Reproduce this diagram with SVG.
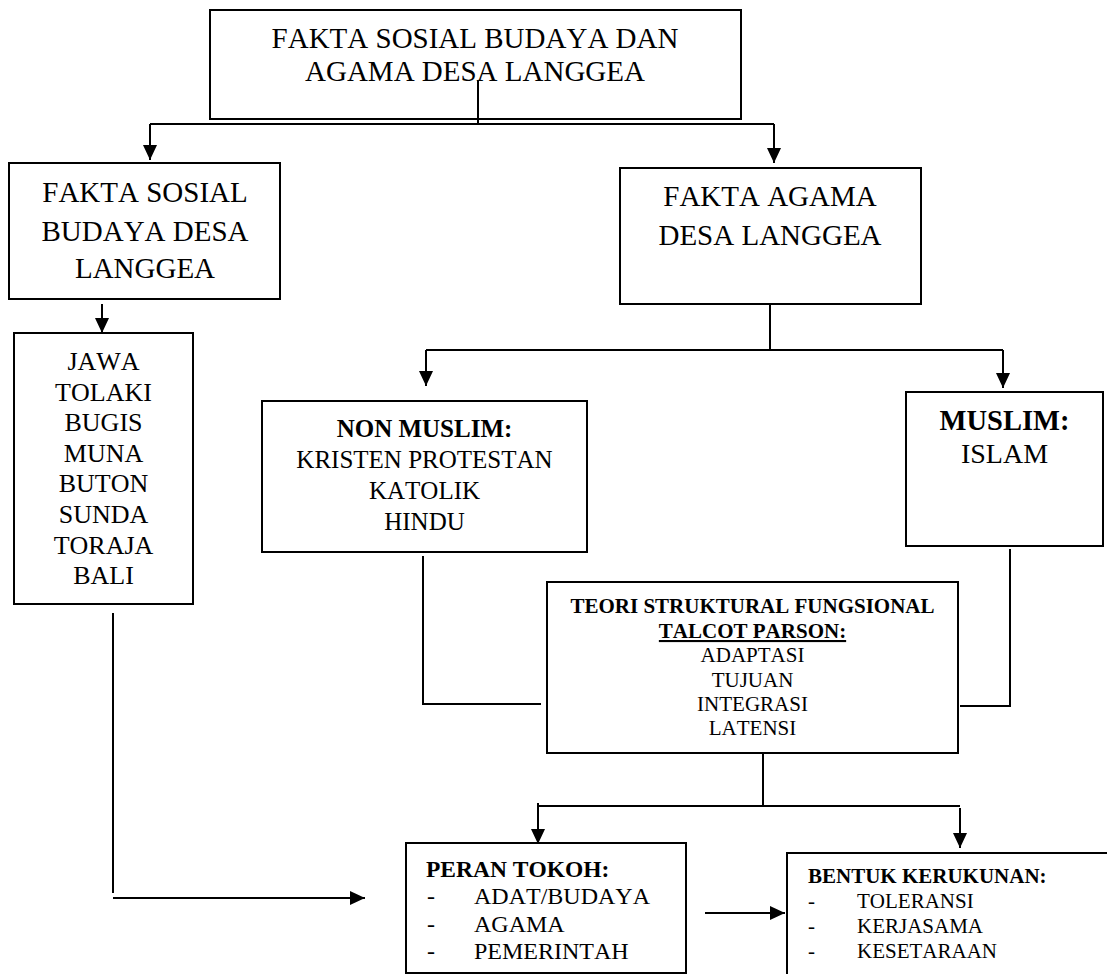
<svg xmlns="http://www.w3.org/2000/svg" width="1107" height="974" viewBox="0 0 1107 974">
<style>
  .box { fill: #ffffff; stroke: #000000; stroke-width: 2; }
  .con { fill: none; stroke: #000000; stroke-width: 2; }
  text { font-family: "Liberation Serif", serif; fill: #000000; font-kerning: none; }
  .c { text-anchor: middle; }
  .b { font-weight: bold; }
</style>
<defs>
  <marker id="arrow" markerUnits="userSpaceOnUse" markerWidth="16" markerHeight="14" refX="15" refY="7" orient="auto">
    <path d="M0,0 L15,7 L0,14 Z" fill="#000000"/>
  </marker>
</defs>
<rect width="1107" height="974" fill="#ffffff"/>

<g id="node-top">
  <rect class="box" x="210" y="10" width="531" height="109"/>
  <text class="c" x="475" y="48" font-size="29">FAKTA SOSIAL BUDAYA DAN</text>
  <text class="c" x="475" y="81" font-size="29">AGAMA DESA LANGGEA</text>
</g>

<g id="node-sosial">
  <rect class="box" x="9" y="163" width="271" height="136"/>
  <text class="c" x="145" y="202" font-size="29">FAKTA SOSIAL</text>
  <text class="c" x="145" y="241" font-size="29">BUDAYA DESA</text>
  <text class="c" x="145" y="278" font-size="29">LANGGEA</text>
</g>

<g id="node-agama">
  <rect class="box" x="620" y="168" width="301" height="136"/>
  <text class="c" x="770" y="206" font-size="29">FAKTA AGAMA</text>
  <text class="c" x="770" y="245" font-size="29">DESA LANGGEA</text>
</g>

<g id="node-suku">
  <rect class="box" x="14" y="333" width="179" height="271"/>
  <text class="c" x="103.5" y="370" font-size="26">JAWA</text>
  <text class="c" x="103.5" y="401" font-size="26">TOLAKI</text>
  <text class="c" x="103.5" y="431" font-size="26">BUGIS</text>
  <text class="c" x="103.5" y="462" font-size="26">MUNA</text>
  <text class="c" x="103.5" y="492" font-size="26">BUTON</text>
  <text class="c" x="103.5" y="523" font-size="26">SUNDA</text>
  <text class="c" x="103.5" y="554" font-size="26">TORAJA</text>
  <text class="c" x="103.5" y="584" font-size="26">BALI</text>
</g>

<g id="node-nonmuslim">
  <rect class="box" x="262" y="401" width="325" height="151"/>
  <text class="c b" x="424.5" y="437" font-size="25">NON MUSLIM:</text>
  <text class="c" x="424.5" y="468" font-size="25">KRISTEN PROTESTAN</text>
  <text class="c" x="424.5" y="499" font-size="25">KATOLIK</text>
  <text class="c" x="424.5" y="530" font-size="25">HINDU</text>
</g>

<g id="node-muslim">
  <rect class="box" x="906" y="392" width="197" height="154"/>
  <text class="c b" x="1004.5" y="430" font-size="28.5">MUSLIM:</text>
  <text class="c" x="1004.5" y="463" font-size="28">ISLAM</text>
</g>

<g id="node-teori">
  <rect class="box" x="547" y="582" width="411" height="171"/>
  <text class="c b" x="752.5" y="613" font-size="21">TEORI STRUKTURAL FUNGSIONAL</text>
  <text class="c b" x="752.5" y="638" font-size="21" text-decoration="underline">TALCOT PARSON:</text>
  <text class="c" x="752.5" y="662" font-size="21">ADAPTASI</text>
  <text class="c" x="752.5" y="687" font-size="21">TUJUAN</text>
  <text class="c" x="752.5" y="711" font-size="21">INTEGRASI</text>
  <text class="c" x="752.5" y="735" font-size="21">LATENSI</text>
</g>

<g id="node-peran">
  <rect class="box" x="406" y="843" width="280" height="130"/>
  <text class="b" x="426" y="877" font-size="23.5">PERAN TOKOH:</text>
  <text x="427" y="904" font-size="24">-</text>
  <text x="474" y="904" font-size="24">ADAT/BUDAYA</text>
  <text x="427" y="932" font-size="24">-</text>
  <text x="474" y="932" font-size="24">AGAMA</text>
  <text x="427" y="959" font-size="24">-</text>
  <text x="474" y="959" font-size="24">PEMERINTAH</text>
</g>

<g id="node-bentuk">
  <rect class="box" x="787" y="853" width="340" height="140"/>
  <text class="b" x="808" y="883" font-size="21">BENTUK KERUKUNAN:</text>
  <text x="808" y="908" font-size="21">-</text>
  <text x="857" y="908" font-size="21">TOLERANSI</text>
  <text x="808" y="933" font-size="21">-</text>
  <text x="857" y="933" font-size="21">KERJASAMA</text>
  <text x="808" y="958" font-size="21">-</text>
  <text x="857" y="958" font-size="21">KESETARAAN</text>
</g>

<g id="connectors">
  <path class="con" d="M478,80 L478,124"/>
  <path class="con" d="M150,124 L774,124"/>
  <path class="con" d="M150,124 L150,160" marker-end="url(#arrow)"/>
  <path class="con" d="M774,124 L774,163" marker-end="url(#arrow)"/>
  <path class="con" d="M102,304 L102,333" marker-end="url(#arrow)"/>
  <path class="con" d="M770,304 L770,350"/>
  <path class="con" d="M426,350 L1003,350"/>
  <path class="con" d="M426,350 L426,386" marker-end="url(#arrow)"/>
  <path class="con" d="M1003,350 L1003,388" marker-end="url(#arrow)"/>
  <path class="con" d="M423,556 L423,704 L541,704"/>
  <path class="con" d="M1010,549 L1010,706 L960,706"/>
  <path class="con" d="M113,613 L113,893"/>
  <path class="con" d="M113,898 L365,898" marker-end="url(#arrow)"/>
  <path class="con" d="M763,753 L763,806"/>
  <path class="con" d="M538,806 L960,806"/>
  <path class="con" d="M538,803 L538,844" marker-end="url(#arrow)"/>
  <path class="con" d="M960,808 L960,848" marker-end="url(#arrow)"/>
  <path class="con" d="M705,913 L785,913" marker-end="url(#arrow)"/>
</g>
</svg>
